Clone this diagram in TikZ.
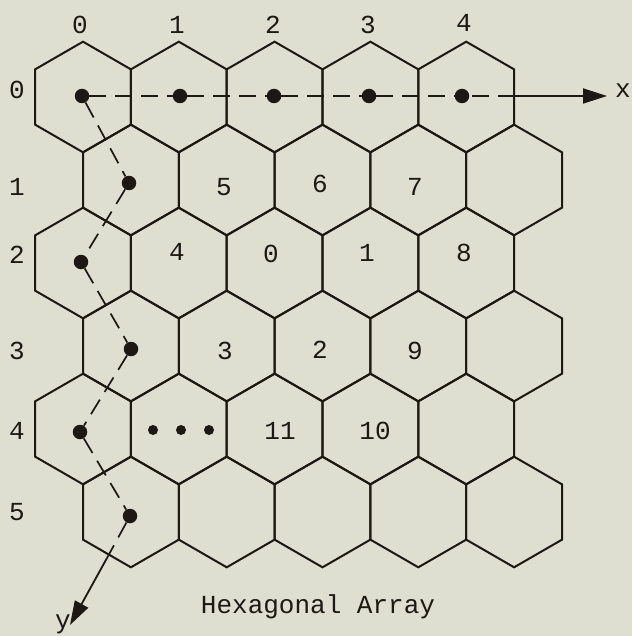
\documentclass[tikz,border=0pt]{standalone}
\usepackage{fontspec}
\setmonofont{Liberation Mono}
\usetikzlibrary{arrows.meta}
\definecolor{bgcol}{RGB}{222,222,209}
\definecolor{ink}{RGB}{28,24,20}
\begin{document}
\begin{tikzpicture}[x=1pt,y=-1pt,
  hexline/.style={draw=ink, line width=2pt, line join=miter},
  lbl/.style={font=\fontsize{26}{26}\selectfont\ttfamily, inner sep=0pt, text=ink},
  bigdot/.style={circle, fill=ink, minimum size=14.5pt, inner sep=0pt},
  smalldot/.style={circle, fill=ink, minimum size=10pt, inner sep=0pt},
  axisdash/.style={draw=ink, line width=1.7pt, dash pattern=on 17pt off 9pt},
  axisline/.style={draw=ink, line width=1.8pt, -{Triangle[length=24pt,width=15pt]}}
]
\fill[bgcol] (0,0) rectangle (632,636);
\useasboundingbox (0,0) rectangle (632,636);

% hexagons
\foreach \r in {0,...,5}{
  \foreach \c in {0,...,4}{
    \pgfmathsetmacro\cx{83+95.8*\c+47.9*mod(\r,2)}
    \pgfmathsetmacro\cy{97+83*\r}
    \draw[hexline] (\cx,\cy) +(90:55.3) -- +(150:55.3) -- +(210:55.3) -- +(270:55.3) -- +(330:55.3) -- +(30:55.3) -- cycle;
  }
}

% column labels
\node[lbl] (c0) at (80,25) {0};
\node[lbl] (c1) at (177,25) {1};
\node[lbl] (c2) at (273,25) {2};
\node[lbl] (c3) at (368,25) {3};
\node[lbl] (c4) at (464,23) {4};

% row labels
\node[lbl] (r0) at (17,90) {0};
\node[lbl] (r1) at (17,187) {1};
\node[lbl] (r2) at (17,255) {2};
\node[lbl] (r3) at (17,351) {3};
\node[lbl] (r4) at (17,431) {4};
\node[lbl] (r5) at (17,512) {5};

% cell labels
\node[lbl] (n5) at (224,187) {5};
\node[lbl] (n6) at (320,184) {6};
\node[lbl] (n7) at (415,187) {7};
\node[lbl] (n4) at (177,252) {4};
\node[lbl] (n0) at (271,254) {0};
\node[lbl] (n1) at (367,253) {1};
\node[lbl] (n8) at (464,253) {8};
\node[lbl] (n3) at (225,351) {3};
\node[lbl] (n2) at (320,350) {2};
\node[lbl] (n9) at (415,351) {9};
\node[lbl] (n11) at (280,431) {11};
\node[lbl] (n10) at (375,431) {10};

% ellipsis
\node[smalldot] (e1) at (153,430) {};
\node[smalldot] (e2) at (181,430) {};
\node[smalldot] (e3) at (209,430) {};

% x-axis dots
\node[bigdot] (x0) at (82,96) {};
\node[bigdot] (x1) at (180,96) {};
\node[bigdot] (x2) at (274,96) {};
\node[bigdot] (x3) at (369,96) {};
\node[bigdot] (x4) at (462,96) {};
% y-axis dots
\node[bigdot] (y1) at (129,183) {};
\node[bigdot] (y2) at (81,262) {};
\node[bigdot] (y3) at (131,349) {};
\node[bigdot] (y4) at (80,432) {};
\node[bigdot] (y5) at (130,516) {};

\coordinate (xe) at (515,96);
\coordinate (xt) at (607,96);
\coordinate (ye) at (107,558);
\coordinate (yt) at (70,625);

\draw[axisdash, shorten <=3pt, shorten >=0pt] (x0) -- (x1) -- (x2) -- (x3) -- (x4) -- (xe);
\draw[axisline] (xe) -- (xt);
\draw[axisdash] (x0) -- (y1) -- (y2) -- (y3) -- (y4) -- (y5) -- (ye);
\draw[axisline] (ye) -- (yt);

\node[lbl] (xl) at (623,91) {x};
\node[lbl] (yl) at (63,624) {y};

\node[lbl, anchor=base] (cap) at (318,613) {Hexagonal Array};
\end{tikzpicture}
\end{document}
